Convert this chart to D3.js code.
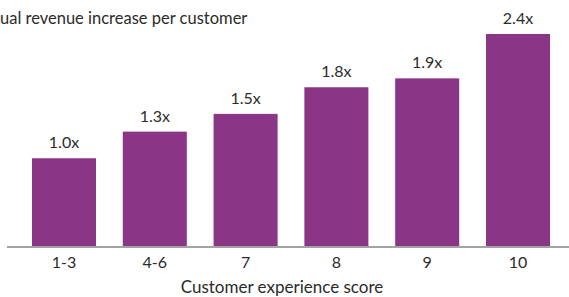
<!DOCTYPE html>
<html>
<head>
<meta charset="utf-8">
<script src="https://cdn.jsdelivr.net/npm/d3@7"></script>
<style>
  body { margin: 0; background: #fff; }
  text { font-family: Lato, "Open Sans", sans-serif; fill: #2b2b2b; }
</style>
</head>
<body>
<div id="container"></div>
<script>
const WIDTH = 569;
const HEIGHT = 297;

const categories = ['1-3', '4-6', '7', '8', '9', '10'];
const values = [1.0, 1.3, 1.5, 1.8, 1.9, 2.4];
const valueLabels = ['1.0x', '1.3x', '1.5x', '1.8x', '1.9x', '2.4x'];
const titleText = 'ual revenue increase per customer';
const xTitle = 'Customer experience score';

const BASE = 247;

const svg = d3.select('#container')
  .append('svg')
    .attr('width', WIDTH)
    .attr('height', HEIGHT);

const x = d3.scaleBand()
  .domain(categories)
  .range([18.6, 563.4])
  .paddingInner(0.295)
  .paddingOuter(0.1475);

const y = d3.scaleLinear()
  .domain([0, 2.4])
  .range([BASE, 34]);

// title (cropped on the left in the source image)
svg.append('text')
  .attr('x', 0)
  .attr('y', 24)
  .style('font-size', '16.5px')
  .text(titleText);

svg.selectAll('.bar')
  .data(values)
  .enter()
  .append('rect')
    .attr('class', 'bar')
    .attr('x', (d, i) => x(categories[i]))
    .attr('y', d => y(d))
    .attr('width', x.bandwidth())
    .attr('height', d => BASE - y(d))
    .attr('fill', '#8a3586');

svg.selectAll('.val')
  .data(values)
  .enter()
  .append('text')
    .attr('class', 'val')
    .attr('x', (d, i) => x(categories[i]) + x.bandwidth() / 2)
    .attr('y', d => y(d) - 10)
    .attr('text-anchor', 'middle')
    .style('font-size', '16px')
    .text((d, i) => valueLabels[i]);

svg.append('line')
  .attr('x1', 7)
  .attr('x2', WIDTH)
  .attr('y1', BASE)
  .attr('y2', BASE)
  .attr('stroke', '#a3a3a3')
  .attr('stroke-width', 2);

svg.selectAll('.cat')
  .data(categories)
  .enter()
  .append('text')
    .attr('class', 'cat')
    .attr('x', d => x(d) + x.bandwidth() / 2)
    .attr('y', 268)
    .attr('text-anchor', 'middle')
    .style('font-size', '16px')
    .text(d => d);

svg.append('text')
  .attr('x', 282)
  .attr('y', 293)
  .attr('text-anchor', 'middle')
  .style('font-size', '17px')
  .text(xTitle);
</script>
</body>
</html>
